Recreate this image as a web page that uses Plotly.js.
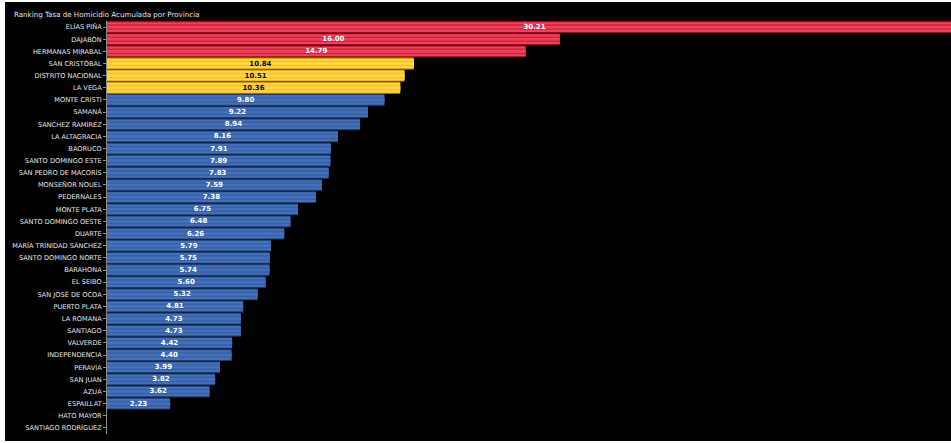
<!DOCTYPE html>
<html>
<head>
<meta charset="utf-8">
<script src="https://cdn.plot.ly/plotly-3.0.1.min.js"></script>
<style>
html,body{margin:0;padding:0;background:#ffffff;width:951px;height:443px;overflow:hidden;}
#chart{position:absolute;left:5px;top:2px;width:946px;height:439px;background:#000;}
</style>
</head>
<body>
<div id="chart"></div>
<script>
const provincias = ["ELÍAS PIÑA","DAJABÓN","HERMANAS MIRABAL","SAN CRISTÓBAL","DISTRITO NACIONAL","LA VEGA","MONTE CRISTI","SAMANÁ","SANCHEZ RAMÍREZ","LA ALTAGRACIA","BAORUCO","SANTO DOMINGO ESTE","SAN PEDRO DE MACORÍS","MONSEÑOR NOUEL","PEDERNALES","MONTE PLATA","SANTO DOMINGO OESTE","DUARTE","MARÍA TRINIDAD SÁNCHEZ","SANTO DOMINGO NORTE","BARAHONA","EL SEIBO","SAN JOSÉ DE OCOA","PUERTO PLATA","LA ROMANA","SANTIAGO","VALVERDE","INDEPENDENCIA","PERAVIA","SAN JUAN","AZUA","ESPAILLAT","HATO MAYOR","SANTIAGO RODRÍGUEZ"];
const tasas = [30.21,16.00,14.79,10.84,10.51,10.36,9.80,9.22,8.94,8.16,7.91,7.89,7.83,7.59,7.38,6.75,6.48,6.26,5.79,5.75,5.74,5.60,5.32,4.81,4.73,4.73,4.42,4.40,3.99,3.82,3.62,2.23,0,0];
const titulo = "Ranking Tasa de Homicidio Acumulada por Provincia";

// colour tiers: top 3 red, next 3 yellow, rest blue
const palette = {
  red:    {edge:"#a8001e", light:"#e9445c", mid:"#d6213c", text:"#ffffff"},
  yellow: {edge:"#d49500", light:"#ffd54a", mid:"#f7c224", text:"#111111"},
  blue:   {edge:"#1d3869", light:"#4570b8", mid:"#3361aa", text:"#ffffff"}
};
const tier = tasas.map((v,i)=> i<3 ? "red" : (i<6 ? "yellow" : "blue"));

function layer(key, width){
  return {
    type:"bar", orientation:"h", y:provincias, x:tasas, width:width,
    marker:{color:tier.map(t=>palette[t][key]), line:{width:0}},
    hoverinfo:"skip", showlegend:false
  };
}
const traces = [
  layer("edge",0.98),
  layer("light",0.8),
  layer("mid",0.46),
  layer("light",0.22),
  {
    type:"bar", orientation:"h", y:provincias, x:tasas, width:0.98,
    marker:{color:"rgba(0,0,0,0)", line:{width:0}},
    text:tasas.map(v=> v>0 ? v.toFixed(2) : ""),
    textposition:"inside", insidetextanchor:"middle", constraintext:"none",
    textfont:{family:"DejaVu Sans, Verdana, sans-serif", size:7, weight:"bold", color:tier.map(t=>palette[t].text)},
    showlegend:false
  }
];

const layout = {
  paper_bgcolor:"#000000", plot_bgcolor:"#000000",
  barmode:"overlay",
  margin:{l:102, r:0, t:19, b:7},
  title:{text:titulo, x:0.0095, xanchor:"left", y:0.978, yanchor:"top",
         font:{family:"DejaVu Sans, Verdana, sans-serif", size:7.1, color:"#e6e6e6"}},
  xaxis:{range:[0,29.82], visible:false, fixedrange:true},
  yaxis:{type:"category", autorange:"reversed", showgrid:false, zeroline:false,
         showline:true, linecolor:"#8a8a8a", linewidth:1,
         ticks:"outside", ticklen:3, tickcolor:"#8a8a8a",
         tickfont:{family:"DejaVu Sans, Verdana, sans-serif", size:6.6, color:"#e6e6e6"},
         automargin:false},
  font:{family:"DejaVu Sans, Verdana, sans-serif"}
};

Plotly.newPlot("chart", traces, layout, {displayModeBar:false, staticPlot:true});
</script>
</body>
</html>
